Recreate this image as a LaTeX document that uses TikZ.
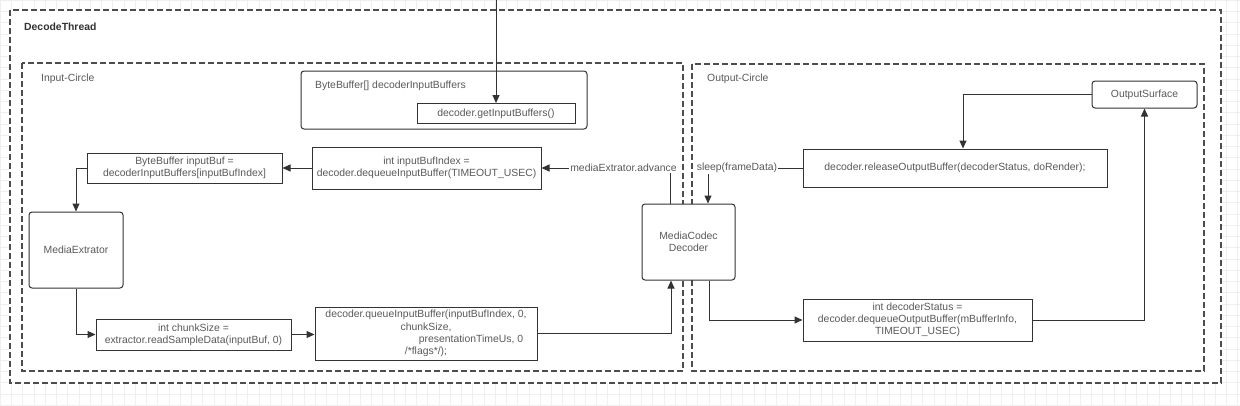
\documentclass[tikz,border=0pt]{standalone}
\usepackage{fontspec}
\setmainfont{Liberation Sans}
\usetikzlibrary{positioning,arrows.meta}

\definecolor{txtgray}{HTML}{595959}
\definecolor{linegray}{HTML}{333333}
\definecolor{dashgray}{HTML}{4D4D4D}
\definecolor{gridgray}{HTML}{EFEFEF}

\tikzset{
  blk/.style={draw=linegray, line width=1pt, fill=white, inner sep=0pt,
    text=txtgray, align=center, font=\fontsize{10.4}{12.3}\selectfont},
  rblk/.style={blk, rounded corners=3pt},
  region/.style={draw=dashgray, line width=1.3pt, dash pattern=on 6pt off 3pt},
  flow/.style={draw=linegray, line width=1pt, -{Triangle[length=8pt,width=7pt]}},
  plain/.style={draw=linegray, line width=1pt},
  lbl/.style={text=txtgray, inner sep=1pt, font=\fontsize{10.4}{12.3}\selectfont},
}

\begin{document}
\begin{tikzpicture}[x=1pt,y=-1pt]
        \useasboundingbox (0,0) rectangle (1240,405);
        % Background grid
        \draw[gridgray, line width=0.5pt, step=11.25pt] (0,0) grid (1240,405);
        % Regions
        \draw[region, fill=white] (10,10) rectangle (1221,383);
        \draw[region] (22,63) rectangle (683,371);
        \draw[region] (692,64) rectangle (1204,371);
        \node[lbl, anchor=west, text=linegray, font=\fontsize{10.4}{12.3}\selectfont\bfseries] (title) at (23,27) {DecodeThread};
        \node[lbl, anchor=west] (inlbl) at (40,79) {Input-Circle};
        \node[lbl, anchor=west] (outlbl) at (706,79) {Output-Circle};

        % Nodes
        \node[rblk, minimum width=286pt, minimum height=58pt] (group) at (444,100) {};
        \node[lbl, anchor=west] (grouplbl) at (314,86) {ByteBuffer[] decoderInputBuffers};
        \node[blk, minimum width=158pt, minimum height=20pt] (getbuf) at (496,113.5) {decoder.getInputBuffers()};
        \node[blk, minimum width=229pt, minimum height=42pt] (idx) at (426.5,168) {int inputBufIndex =\\decoder.dequeueInputBuffer(TIMEOUT\_USEC)};
        \node[blk, minimum width=195pt, minimum height=30pt] (inbuf) at (184.5,168) {ByteBuffer inputBuf =\\decoderInputBuffers[inputBufIndex]};
        \node[rblk, minimum width=94pt, minimum height=76pt] (extr) at (76,250) {MediaExtrator};
        \node[blk, minimum width=195pt, minimum height=31pt] (chunk) at (193.5,334.5) {int chunkSize =\\extractor.readSampleData(inputBuf, 0)};
        \node[blk, minimum width=222pt, minimum height=53pt] (queue) at (426,333.5) {decoder.queueInputBuffer(inputBufIndex, 0,\\chunkSize,\\\hspace*{90pt}presentationTimeUs, 0\\/*flags*/);};
        \node[rblk, minimum width=93pt, minimum height=76pt] (codec) at (688.5,242) {MediaCodec\\Decoder};
        \node[blk, minimum width=304pt, minimum height=38pt] (release) at (955,168) {decoder.releaseOutputBuffer(decoderStatus, doRender);};
        \node[rblk, minimum width=105pt, minimum height=27pt] (surface) at (1144.5,94.5) {OutputSurface};
        \node[blk, minimum width=229pt, minimum height=42pt] (status) at (917.5,320) {int decoderStatus =\\decoder.dequeueOutputBuffer(mBufferInfo,\\TIMEOUT\_USEC)};
        \node[lbl] (advance) at (623.5,168) {mediaExtrator.advance};
        \node[lbl] (sleep) at (737,168) {sleep(frameData)};
        \coordinate (src) at (496,0);

        % Connectors
        \draw[flow] (src) -- (getbuf.north);
        \draw[flow] (idx.west) -- (idx.west -| inbuf.east);
        \draw[flow] (inbuf.west) -| (extr.north);
        \draw[flow] (extr.south) |- (chunk.west);
        \draw[flow] (chunk.east) -- (chunk.east -| queue.west);
        \draw[flow] (queue.east) -| ([xshift=-17.5pt]codec.south);
        \draw[plain] ([xshift=-18.5pt]codec.north) -- ([xshift=-18.5pt]codec.north |- advance.south);
        \draw[flow] (advance.west) -- (advance.west -| idx.east);
        \draw[plain] (release.west) -- (sleep.east);
        \draw[flow] ([xshift=19.5pt]codec.north |- sleep.south) -- ([xshift=19.5pt]codec.north);
        \draw[flow] ([xshift=20.5pt]codec.south) |- (status.west);
        \draw[flow] (status.east) -| (surface.south);
        \draw[flow] (surface.west) -| ([xshift=8pt]release.north);
\end{tikzpicture}
\end{document}
